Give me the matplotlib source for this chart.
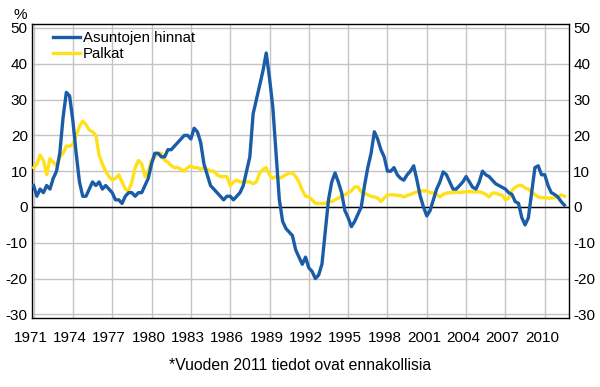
import numpy as np
import matplotlib
matplotlib.use('Agg')
import matplotlib.pyplot as plt
import matplotlib.transforms as mtransforms

plt.rcParams['font.family'] = ['Liberation Sans', 'DejaVu Sans']
plt.rcParams['axes.unicode_minus'] = False

# Quarterly values, 1971Q1 ->
asunnot = [
    6, 3, 5, 4,            # 1971
    6, 5, 8, 10,           # 1972
    15, 25, 32, 31,        # 1973
    24, 15, 7, 3,          # 1974
    3, 5, 7, 6,            # 1975
    7, 5, 6, 5,            # 1976
    4, 2, 2, 1,            # 1977
    3, 4, 4, 3,            # 1978
    4, 4, 6, 8,            # 1979
    12, 15, 15, 14,        # 1980
    14, 16, 16, 17,        # 1981
    18, 19, 20, 20,        # 1982
    19, 22, 21, 18,        # 1983
    12, 9, 6, 5,           # 1984
    4, 3, 2, 3,            # 1985
    3, 2, 3, 4,            # 1986
    6, 10, 14, 26,         # 1987
    30, 34, 38, 43,        # 1988
    36, 28, 15, 2,         # 1989
    -4, -6, -7, -8,        # 1990
    -12, -14, -16, -14,    # 1991
    -17, -18, -20, -19,    # 1992
    -16, -7, 2, 7,         # 1993
    9.5, 7, 4, -1,         # 1994
    -3, -5.5, -4, -2,      # 1995
    0, 6, 11, 15,          # 1996
    21, 19, 16, 14,        # 1997
    10, 10, 11, 9,         # 1998
    8, 7.5, 9, 10,         # 1999
    11.5, 7.5, 3, 0,       # 2000
    -2.5, -1, 2, 5,        # 2001
    7, 9.8, 9, 7,          # 2002
    5, 5, 6, 7,            # 2003
    8.5, 7, 5.5, 5,        # 2004
    7, 10, 9, 8.5,         # 2005
    7.5, 6.5, 6, 5.5,      # 2006
    5, 4, 3.5, 1.5,        # 2007
    1, -3, -5, -3,         # 2008
    4, 11, 11.5, 9,        # 2009
    9, 6, 4, 3.5,          # 2010
    2.8, 1.5, 0.5,         # 2011
]

palkat = [
    11, 12, 14.5, 13,      # 1971
    9, 13.5, 12.5, 11.5,   # 1972
    14, 15, 17, 17,        # 1973
    17.5, 20, 22.5, 24,    # 1974
    23, 21.5, 21, 20,      # 1975
    14.5, 12, 10, 8.5,     # 1976
    7.5, 8, 9, 7,          # 1977
    5, 4.5, 7, 11,         # 1978
    13, 12, 8.5, 10,       # 1979
    13, 14, 15, 15,        # 1980
    13, 12.5, 11.5, 11,    # 1981
    11, 10.5, 10, 11,      # 1982
    11.5, 11, 11, 10.5,    # 1983
    11, 10.5, 10, 10,      # 1984
    9, 8.5, 8.5, 8.5,      # 1985
    6, 7, 7.5, 7,          # 1986
    7, 7, 7, 6.5,          # 1987
    7, 9.5, 10.5, 11,      # 1988
    9, 8, 8.5, 8,          # 1989
    8.5, 9, 9.5, 9.5,      # 1990
    8.5, 7, 4.7, 3,        # 1991
    2.8, 2, 1, 1,          # 1992
    1, 1, 1.5, 1.5,        # 1993
    2, 2.5, 3, 3.4,        # 1994
    4, 4.5, 5.6, 5.6,      # 1995
    4.2, 3.8, 3.4, 3,      # 1996
    2.8, 2.5, 1.5, 2.5,    # 1997
    3.4, 3.4, 3.4, 3.2,    # 1998
    3.2, 2.8, 3.2, 3.5,    # 1999
    3.9, 4.2, 4.5, 4.5,    # 2000
    4.5, 4, 3.9, 3.5,      # 2001
    2.8, 3.5, 3.9, 4,      # 2002
    4, 4.2, 4, 4.2,        # 2003
    4.2, 4.3, 4.2, 4.2,    # 2004
    4.2, 4, 3.5, 2.8,      # 2005
    3.9, 3.9, 3.5, 3.3,    # 2006
    2, 2.5, 4.7, 5.5,      # 2007
    6, 6, 5.3, 5,          # 2008
    4.2, 3.5, 2.8, 2.6,    # 2009
    2.6, 2.5, 2.5, 2.6,    # 2010
    2.8, 3.4, 3,           # 2011
]

years = 1971 + np.arange(len(asunnot)) * 0.25
year_ticks = list(range(1971, 2011, 3))
y_ticks = [-30, -20, -10, 0, 10, 20, 30, 40, 50]

blue = '#1a5ca8'
yellow = '#ffe01a'

fig = plt.figure(figsize=(6, 3.87), dpi=100)
ax = fig.add_axes([32 / 600, 1 - 318 / 387, 537 / 600, 294 / 387])

ax.plot(years, palkat, color=yellow, lw=2.4, label='Palkat', zorder=3)
ax.plot(years, asunnot, color=blue, lw=2.4, label='Asuntojen hinnat', zorder=4)
ax.axhline(0, color='black', lw=1, zorder=2)

ax.set_xlim(1970.88, 2011.85)
ax.set_ylim(-31, 51.1)
ax.set_xticks(year_ticks)
ax.set_yticks(y_ticks)
ax.grid(True, color='#c4c4c4', lw=1)
ax.set_axisbelow(True)
ax.tick_params(length=0, labelsize=11, labelright=True, pad=3)
ax.tick_params(axis='x', pad=9)
for sp in ax.spines.values():
    sp.set_color('black')
    sp.set_linewidth(1)

# x labels sit a little left of the gridlines
offset = mtransforms.ScaledTranslation(-3 / 100, 0, fig.dpi_scale_trans)
for lab in ax.get_xticklabels():
    lab.set_transform(lab.get_transform() + offset)

handles, labels = ax.get_legend_handles_labels()
ax.legend(handles[::-1], labels[::-1], loc='upper left', frameon=False,
          fontsize=10.8, handlelength=1.8, handletextpad=0.2,
          labelspacing=0.1, borderaxespad=0.0, bbox_to_anchor=(0.028, 0.995))

fig.text(14 / 600, 1 - 15 / 387, '%', fontsize=11, va='center', ha='left')
fig.text(0.5, 1 - 366 / 387, '*Vuoden 2011 tiedot ovat ennakollisia',
         fontsize=11.3, ha='center', va='center')

fig.savefig('out.png', dpi=100)
